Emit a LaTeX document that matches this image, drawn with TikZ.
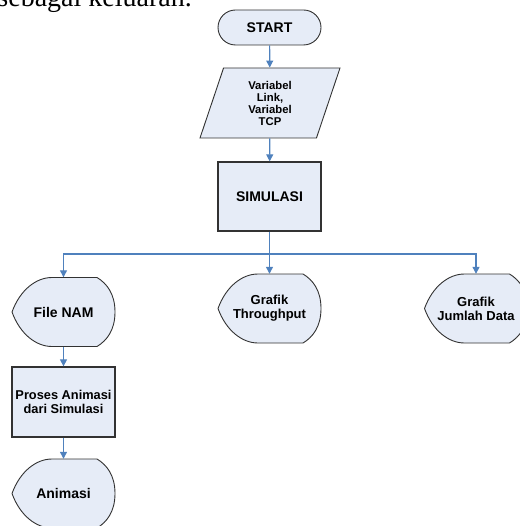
\documentclass[tikz,border=0pt]{standalone}
\usepackage{fontspec}
\setmainfont{Liberation Serif}
\setsansfont{Liberation Sans}
\usetikzlibrary{arrows.meta, calc, shapes.geometric}

\definecolor{boxfill}{RGB}{230,236,247}
\definecolor{flowblue}{RGB}{79,129,189}
\definecolor{boxline}{RGB}{50,50,50}

\begin{document}
\begin{tikzpicture}[x=1pt, y=-1pt,
	term/.style={draw=boxline, line width=0.9pt, fill=boxfill, rounded corners=17.5pt,
		minimum width=103pt, minimum height=35pt, inner sep=0pt,
		font=\sffamily\bfseries\fontsize{14}{16}\selectfont},
	io/.style={draw=boxline, line width=0.9pt, fill=boxfill, trapezium,
		trapezium left angle=62, trapezium right angle=118, trapezium stretches body,
		minimum width=140pt, minimum height=70pt, inner sep=0pt, align=center,
		font=\sffamily\bfseries\fontsize{11.3}{12}\selectfont},
	proc/.style={draw=boxline, line width=1.3pt, fill=boxfill,
		minimum width=103pt, minimum height=70pt, inner sep=0pt, align=center,
		font=\sffamily\bfseries\fontsize{12.8}{14.3}\selectfont},
	disp/.style={minimum width=103pt, minimum height=69pt, inner sep=0pt, align=center,
		font=\sffamily\bfseries\fontsize{14}{14}\selectfont},
	displine/.style={draw=boxline, line width=0.9pt, fill=boxfill, line join=round},
	flow/.style={draw=flowblue, line width=1.2pt, -{Triangle[width=7pt,length=7pt]}}]
	\useasboundingbox (0,0) rectangle (519,526);
	% display outline, #1,#2 = centre
	\def\disp#1#2{\draw[displine] (#1-51.5,#2) .. controls +(8,-22) and +(-16,0) .. ++(40,-34.5)
		-- ++(45,0) .. controls +(10,6) and +(0,-18) .. ++(18,34.5)
		.. controls +(0,18) and +(10,-6) .. ++(-18,34.5) -- ++(-45,0)
		.. controls +(-16,0) and +(8,22) .. (#1-51.5,#2) -- cycle;}

	% text of the page above
	\node[anchor=base east, inner sep=0pt, font=\rmfamily\fontsize{28}{30}\selectfont]
		(caption) at (192,6.5) {sebagai keluaran.};

	% main column
	\node[term] (start) at (269.5,27.5) {START};
	\node[io] (input) at (270,103) {Variabel\\Link,\\Variabel\\TCP};
	\node[proc, minimum height=69pt, font=\sffamily\bfseries\fontsize{14}{16}\selectfont]
		(sim) at (269.5,196.5) {SIMULASI};

	% outputs
	\disp{63.5}{312}
	\node[disp] (fnam) at (63.5,312) {File NAM};
	\disp{269.5}{308.5}
	\node[disp, font=\sffamily\bfseries\fontsize{13}{14}\selectfont] (thru) at (269.5,308.5) {Grafik\\Throughput};
	\disp{476}{308.5}
	\node[disp, font=\sffamily\bfseries\fontsize{13}{14}\selectfont] (jdata) at (476,308.5) {Grafik\\Jumlah Data};

	% animation branch
	\node[proc] (anim) at (63.5,402) {Proses Animasi\\dari Simulasi};
	\disp{63.5}{493.5}
	\node[disp] (animasi) at (63.5,493.5) {Animasi};

	% connectors
	\coordinate (split) at (269.5,254);
	\draw[flow] (start) -- (input);
	\draw[flow] (input) -- (sim);
	\draw[flow] (sim) -- (thru);
	\draw[flow] (split) -| (fnam);
	\draw[flow] (split) -| (jdata);
	\draw[flow] (fnam) -- (anim);
	\draw[flow] (anim) -- (animasi);
\end{tikzpicture}
\end{document}
